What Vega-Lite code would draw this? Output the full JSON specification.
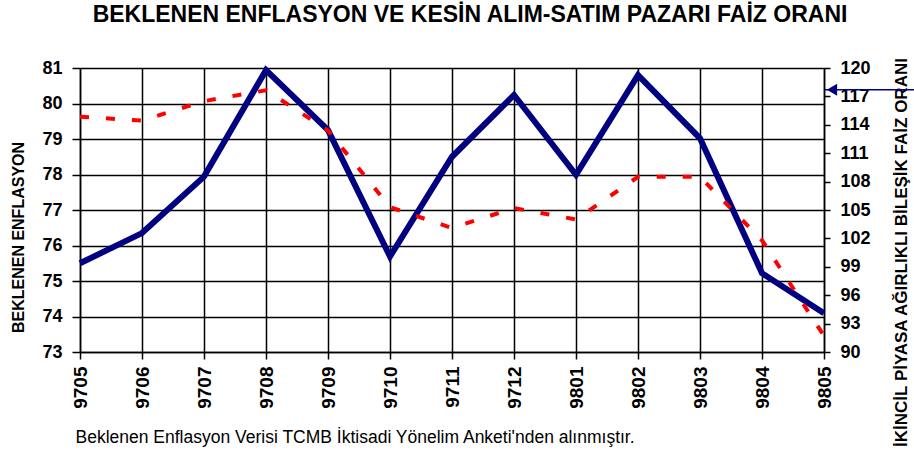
{
  "$schema": "https://vega.github.io/schema/vega-lite/v6.json",
  "width": 744,
  "height": 284,
  "autosize": {"type": "none"},
  "padding": {"left": 80, "top": 68, "right": 90, "bottom": 116},
  "background": "white",
  "title": {
    "text": "BEKLENEN ENFLASYON VE KESİN ALIM-SATIM PAZARI FAİZ ORANI",
    "font": "Liberation Sans",
    "fontSize": 23,
    "fontWeight": "bold",
    "color": "black",
    "anchor": "middle",
    "offset": 30,
    "dx": 18
  },
  "data": {
    "values": [
      {"donem": "9705", "enf": 75.5, "faiz": 114.85},
      {"donem": "9706", "enf": 76.35, "faiz": 114.45},
      {"donem": "9707", "enf": 77.94, "faiz": 116.5},
      {"donem": "9708", "enf": 80.94, "faiz": 117.65},
      {"donem": "9709", "enf": 79.25, "faiz": 113.4},
      {"donem": "9710", "enf": 75.69, "faiz": 105.3},
      {"donem": "9711", "enf": 78.5, "faiz": 103.1},
      {"donem": "9712", "enf": 80.24, "faiz": 105.2},
      {"donem": "9801", "enf": 77.99, "faiz": 104.0},
      {"donem": "9802", "enf": 80.8, "faiz": 108.5},
      {"donem": "9803", "enf": 79.02, "faiz": 108.5},
      {"donem": "9804", "enf": 75.22, "faiz": 101.8},
      {"donem": "9805", "enf": 74.09, "faiz": 91.7}
    ]
  },
  "encoding": {
    "x": {
      "field": "donem",
      "type": "ordinal",
      "sort": null,
      "scale": {"type": "point", "padding": 0},
      "axis": {
        "title": "Beklenen Enflasyon Verisi TCMB İktisadi Yönelim Anketi'nden alınmıştır.",
        "titleFont": "Liberation Sans",
        "titleFontSize": 17.5,
        "titleFontWeight": "normal",
        "titleColor": "black",
        "titleAnchor": "start",
        "titleAlign": "left",
        "titleBaseline": "middle",
        "titleX": -5,
        "titleY": 85,
        "labelAngle": -90,
        "labelAlign": "right",
        "labelBaseline": "middle",
        "labelFont": "Liberation Sans",
        "labelFontSize": 19,
        "labelFontWeight": "bold",
        "labelColor": "black",
        "labelPadding": 7,
        "tickSize": 7,
        "tickColor": "black",
        "tickWidth": 1.5,
        "grid": true,
        "gridColor": "black",
        "gridOpacity": 1,
        "gridWidth": 1.5,
        "domainColor": "black",
        "domainWidth": 1.5
      }
    }
  },
  "layer": [
    {
      "mark": {"type": "line", "color": "#000080", "strokeWidth": 6},
      "encoding": {
        "y": {
          "field": "enf",
          "type": "quantitative",
          "scale": {"domain": [73, 81], "nice": false, "zero": false},
          "axis": {
            "title": "BEKLENEN ENFLASYON",
            "values": [73, 74, 75, 76, 77, 78, 79, 80, 81],
            "labelFlush": false,
            "labelOverlap": false,
            "grid": true,
            "gridColor": "black",
            "gridOpacity": 1,
            "gridWidth": 1.5,
            "domainColor": "black",
            "domainWidth": 1.5,
            "tickColor": "black",
            "tickSize": 8,
            "tickWidth": 1.5,
            "labelFont": "Liberation Sans",
            "labelFontSize": 18,
            "labelFontWeight": "bold",
            "labelColor": "black",
            "labelPadding": 10,
            "titleFont": "Liberation Sans",
            "titleFontSize": 16,
            "titleFontWeight": "bold",
            "titleColor": "black",
            "titleAngle": -90,
            "titleX": -62,
            "titleY": 169,
            "titleAlign": "center",
            "titleBaseline": "middle"
          }
        }
      }
    },
    {
      "mark": {"type": "line", "color": "#FF0000", "strokeWidth": 4, "strokeDash": [9, 17]},
      "encoding": {
        "y": {
          "field": "faiz",
          "type": "quantitative",
          "scale": {"domain": [90, 120], "nice": false, "zero": false},
          "axis": {
            "orient": "right",
            "title": "İKİNCİL PİYASA AĞIRLIKLI BİLEŞİK FAİZ ORANI",
            "values": [90, 93, 96, 99, 102, 105, 108, 111, 114, 117, 120],
            "labelFlush": false,
            "labelOverlap": false,
            "grid": false,
            "domainColor": "black",
            "domainWidth": 1.5,
            "tickColor": "black",
            "tickSize": 6,
            "tickWidth": 1.5,
            "labelFont": "Liberation Sans",
            "labelFontSize": 18,
            "labelFontWeight": "bold",
            "labelColor": "black",
            "labelPadding": 10,
            "titleFont": "Liberation Sans",
            "titleFontSize": 17,
            "titleFontWeight": "bold",
            "titleColor": "black",
            "titleAngle": -90,
            "titleX": 77,
            "titleY": 184,
            "titleAlign": "center",
            "titleBaseline": "middle"
          }
        }
      }
    },
    {
      "data": {"values": [{"donem": "9805", "ok": 117.7}]},
      "layer": [
        {
          "mark": {"type": "rule", "color": "#000080", "strokeWidth": 1.5, "x2Offset": 95},
          "encoding": {
            "x2": {"field": "donem"},
            "y": {"field": "ok", "type": "quantitative", "scale": {"domain": [90, 120], "nice": false, "zero": false}, "axis": null}
          }
        },
        {
          "mark": {"type": "point", "shape": "triangle-left", "filled": true, "color": "#000080", "size": 140, "opacity": 1, "xOffset": 8},
          "encoding": {
            "y": {"field": "ok", "type": "quantitative", "scale": {"domain": [90, 120], "nice": false, "zero": false}, "axis": null}
          }
        }
      ]
    }
  ],
  "resolve": {"scale": {"y": "independent"}},
  "config": {"view": {"stroke": null}}
}
